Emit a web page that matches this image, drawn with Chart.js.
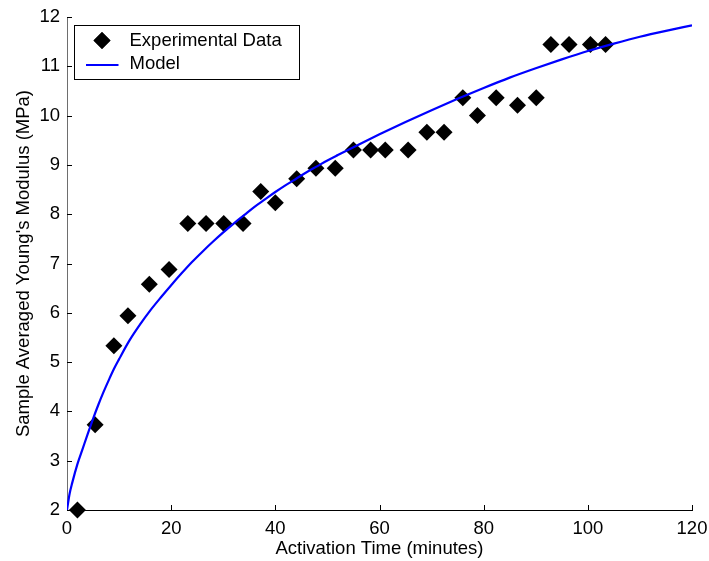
<!DOCTYPE html>
<html>
<head>
<meta charset="utf-8">
<title>Young's Modulus vs Activation Time</title>
<script src="https://cdn.jsdelivr.net/npm/chart.js@4.4.1/dist/chart.umd.min.js"></script>
<style>
  html, body { margin: 0; padding: 0; background: #ffffff; }
  canvas { display: block; }
</style>
</head>
<body>
<canvas id="chart" width="709" height="561"></canvas>
<script>
// Measured samples: activation time (minutes) and sample-averaged Young's modulus (MPa)
const timeMinutes = [2.0, 5.4, 9.0, 11.7, 15.8, 19.6, 23.2, 26.7, 30.1, 33.8,
                     37.2, 40.0, 44.1, 47.8, 51.5, 55.0, 58.3, 61.1, 65.5, 69.1,
                     72.4, 76.0, 78.8, 82.4, 86.5, 90.1, 92.9, 96.4, 100.5, 103.4];
const modulusMPa = [2.00, 3.73, 5.33, 5.94, 6.58, 6.88, 7.81, 7.81, 7.81, 7.81,
                    8.46, 8.23, 8.72, 8.93, 8.93, 9.30, 9.30, 9.30, 9.30, 9.66,
                    9.66, 10.36, 10.00, 10.36, 10.21, 10.36, 11.44, 11.44, 11.44, 11.44];

// Model curve sampled along the time axis
const modelTime = [0, 0.5, 1, 2, 3, 4, 5, 6, 7, 8, 9, 10, 12, 14, 16, 18, 20, 22, 24, 26,
                   28, 30, 32, 34, 36, 38, 40, 42, 44, 46, 48, 50, 52, 55, 60, 65, 70, 75,
                   80, 85, 90, 95, 100, 105, 110, 115, 120];
const modelModulus = [2.00, 2.33, 2.55, 2.93, 3.24, 3.55, 3.85, 4.13, 4.39, 4.63, 4.86, 5.06,
                      5.44, 5.76, 6.05, 6.31, 6.56, 6.80, 7.03, 7.24, 7.44, 7.63, 7.81, 7.98,
                      8.15, 8.30, 8.45, 8.59, 8.72, 8.85, 8.97, 9.09, 9.20, 9.36, 9.62, 9.87,
                      10.11, 10.34, 10.56, 10.77, 10.96, 11.14, 11.31, 11.46, 11.60, 11.72, 11.83];

// Axis tick values
const xTickValues = [0, 20, 40, 60, 80, 100, 120];
const yTickValues = [2, 3, 4, 5, 6, 7, 8, 9, 10, 11, 12];

const FONT_FAMILY = '"Liberation Sans", Arial, Helvetica, sans-serif';
const FONT_SIZE = 18.5;

// Short tick marks pointing into the plot area
const inwardTicks = {
  id: 'inwardTicks',
  beforeDatasetsDraw(chart) {
    const { ctx, chartArea, scales } = chart;
    const len = 5;
    ctx.save();
    ctx.strokeStyle = '#000000';
    ctx.lineWidth = 1;
    ctx.beginPath();
    xTickValues.forEach(v => {
      const px = Math.round(scales.x.getPixelForValue(v)) + 0.5;
      ctx.moveTo(px, chartArea.bottom);
      ctx.lineTo(px, chartArea.bottom - len);
    });
    yTickValues.forEach(v => {
      const py = Math.round(scales.y.getPixelForValue(v)) + 0.5;
      ctx.moveTo(chartArea.left, py);
      ctx.lineTo(chartArea.left + len, py);
    });
    ctx.stroke();
    ctx.restore();
  }
};

// Boxed legend in the upper-left corner of the plot
const boxedLegend = {
  id: 'boxedLegend',
  afterDatasetsDraw(chart) {
    const { ctx, chartArea } = chart;
    const points = chart.data.datasets[1];
    const model = chart.data.datasets[0];
    const left = Math.round(chartArea.left + 7) + 0.5;
    const top = Math.round(chartArea.top + 8) + 0.5;
    const w = 225, h = 54;
    ctx.save();
    ctx.fillStyle = '#ffffff';
    ctx.fillRect(left, top, w, h);
    ctx.strokeStyle = '#000000';
    ctx.lineWidth = 1;
    ctx.strokeRect(left, top, w, h);

    const row1 = top + 15;
    const row2 = top + 38;
    // marker sample
    ctx.fillStyle = points.backgroundColor;
    ctx.strokeStyle = points.borderColor;
    Chart.helpers.drawPoint(ctx, {
      pointStyle: points.pointStyle,
      radius: points.pointRadius,
      borderWidth: 0,
      rotation: 0
    }, left + 27.5, row1);
    ctx.fill();
    // line sample
    ctx.strokeStyle = model.borderColor;
    ctx.lineWidth = model.borderWidth;
    ctx.beginPath();
    ctx.moveTo(left + 11.5, row2 + 1.5);
    ctx.lineTo(left + 44, row2 + 1.5);
    ctx.stroke();
    // labels
    ctx.fillStyle = '#000000';
    ctx.font = FONT_SIZE + 'px ' + FONT_FAMILY;
    ctx.textBaseline = 'middle';
    ctx.textAlign = 'left';
    ctx.fillText(points.label, left + 55, row1);
    ctx.fillText(model.label, left + 55, row2);
    ctx.restore();
  }
};

const ctx = document.getElementById('chart').getContext('2d');
new Chart(ctx, {
  type: 'scatter',
  data: {
    datasets: [
      {
        label: 'Model',
        type: 'line',
        data: modelTime.map((t, i) => ({ x: t, y: modelModulus[i] })),
        showLine: true,
        borderColor: '#0000ff',
        backgroundColor: '#0000ff',
        borderWidth: 2.2,
        pointRadius: 0,
        cubicInterpolationMode: 'monotone',
        fill: false,
        order: 0
      },
      {
        label: 'Experimental Data',
        data: timeMinutes.map((t, i) => ({ x: t, y: modulusMPa[i] })),
        pointStyle: 'rectRot',
        pointRadius: 8.5,
        pointHoverRadius: 8.5,
        backgroundColor: '#000000',
        borderColor: '#000000',
        borderWidth: 0,
        clip: false,
        order: 1
      }
    ]
  },
  options: {
    responsive: false,
    animation: false,
    devicePixelRatio: 1,
    events: [],
    layout: { padding: { left: 0, right: 17, top: 17, bottom: 0 } },
    plugins: {
      legend: { display: false },
      tooltip: { enabled: false }
    },
    scales: {
      x: {
        type: 'linear',
        min: 0,
        max: 120,
        afterBuildTicks(scale) { scale.ticks = xTickValues.map(v => ({ value: v })); },
        afterFit(scale) {
          scale.height = 51;
          scale.paddingLeft = 0;
          scale.paddingRight = 0;
        },
        grid: { display: false, drawTicks: false },
        border: { display: true, color: '#000000', width: 1 },
        ticks: {
          color: '#000000',
          padding: 8,
          maxRotation: 0,
          font: { family: FONT_FAMILY, size: FONT_SIZE }
        },
        title: {
          display: true,
          text: 'Activation Time (minutes)',
          color: '#000000',
          padding: { top: 0, bottom: 1 },
          font: { family: FONT_FAMILY, size: FONT_SIZE }
        }
      },
      y: {
        type: 'linear',
        min: 2,
        max: 12,
        afterBuildTicks(scale) { scale.ticks = yTickValues.map(v => ({ value: v })); },
        afterFit(scale) {
          scale.width = 67;
          scale.paddingTop = 0;
          scale.paddingBottom = 0;
        },
        grid: { display: false, drawTicks: false },
        border: { display: true, color: '#6e6e6e', width: 1 },
        ticks: {
          color: '#000000',
          padding: 7,
          font: { family: FONT_FAMILY, size: FONT_SIZE }
        },
        title: {
          display: true,
          text: "Sample Averaged Young's Modulus (MPa)",
          color: '#000000',
          padding: { top: 13, bottom: 0 },
          font: { family: FONT_FAMILY, size: FONT_SIZE }
        }
      }
    }
  },
  plugins: [inwardTicks, boxedLegend]
});
</script>
</body>
</html>
